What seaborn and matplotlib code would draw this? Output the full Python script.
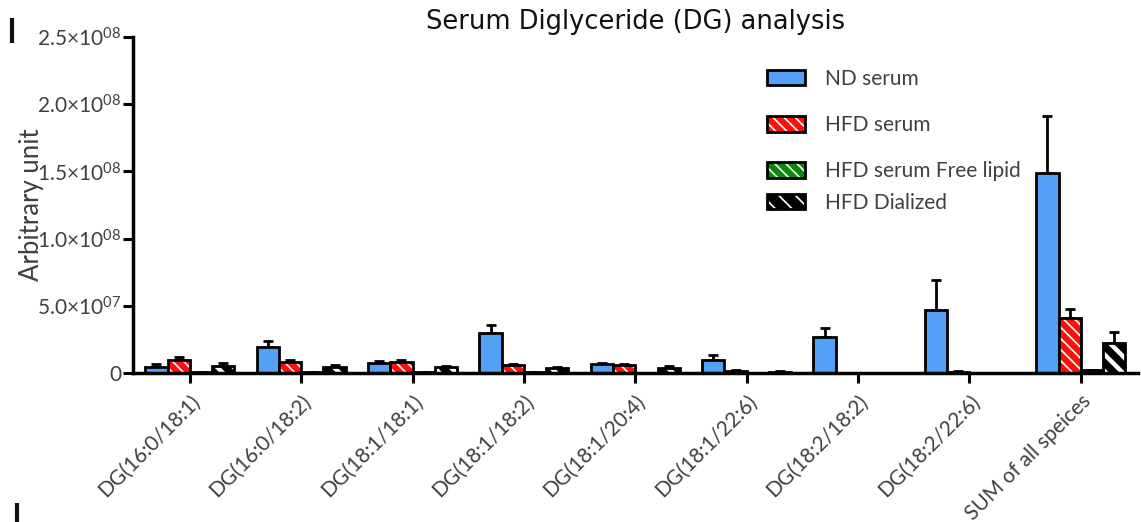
import numpy as np
import pandas as pd
import matplotlib
matplotlib.use("Agg")
import matplotlib.pyplot as plt
import seaborn as sns
from matplotlib.patches import Patch, Rectangle
from matplotlib.lines import Line2D
from matplotlib.legend_handler import HandlerTuple

# ---- data -------------------------------------------------------------
species = ["DG(16:0/18:1)", "DG(16:0/18:2)", "DG(18:1/18:1)", "DG(18:1/18:2)",
           "DG(18:1/20:4)", "DG(18:1/22:6)", "DG(18:2/18:2)", "DG(18:2/22:6)",
           "SUM of all speices"]
groups = ["ND serum", "HFD serum", "HFD serum Free lipid", "HFD Dialized"]

nd_mean = [4.7e6, 1.95e7, 7.5e6, 2.95e7, 6.5e6, 9.7e6, 2.7e7, 4.7e7, 1.49e8]
nd_err = [2.0e6, 4.5e6, 1.5e6, 6.0e6, 1.0e6, 4.0e6, 6.5e6, 2.2e7, 4.2e7]
hfd_mean = [9.5e6, 8.0e6, 8.5e6, 6.0e6, 6.0e6, 1.8e6, 3.0e5, 1.0e6, 4.13e7]
hfd_err = [2.5e6, 2.0e6, 1.0e6, 1.0e6, 0.5e6, 0.3e6, 0.0, 0.3e6, 6.5e6]
free_mean = [5e5, 4e5, 1.0e6, 4e5, 2e5, 2e5, 1e5, 1e5, 2.5e6]
free_err = [0, 0, 0, 0, 0, 0, 0, 0, 0]
dial_mean = [5.5e6, 4.5e6, 4.5e6, 3.5e6, 3.5e6, 1.0e6, 2e5, 3e5, 2.25e7]
dial_err = [1.7e6, 1.5e6, 1.0e6, 1.0e6, 1.5e6, 0.3e6, 0, 0, 7.8e6]

ytick_vals = [0, 5e7, 1e8, 1.5e8, 2e8, 2.5e8]
ytick_labels = ["0",
                r"5.0×10$^{\mathregular{07}}$",
                r"1.0×10$^{\mathregular{08}}$",
                r"1.5×10$^{\mathregular{08}}$",
                r"2.0×10$^{\mathregular{08}}$",
                r"2.5×10$^{\mathregular{08}}$"]

means = [nd_mean, hfd_mean, free_mean, dial_mean]
errs = [nd_err, hfd_err, free_err, dial_err]
colors = ["#55A0F7", "#FF0D0D", "#0A8A0A", "#000000"]
hatches = [None, "\\\\\\", "\\\\\\", "\\\\"]
hatch_lw = [0, 1.2, 1.2, 3.2]

df = pd.DataFrame({
    "species": species * len(groups),
    "group": np.repeat(groups, len(species)),
    "value": np.concatenate(means),
})

# ---- style -------------------------------------------------------------
sns.set_theme(style="ticks")
plt.rcParams["font.family"] = ["Lato", "DejaVu Sans"]
plt.rcParams["mathtext.fontset"] = "custom"
plt.rcParams["mathtext.rm"] = "Lato"
plt.rcParams["mathtext.it"] = "Lato:italic"
plt.rcParams["mathtext.bf"] = "Lato:bold"
plt.rcParams["hatch.linewidth"] = 1.2
text_gray = "#404040"
fs = 15

fig = plt.figure(figsize=(11.41, 5.22), dpi=100)
ax = fig.add_axes([0.1166, 0.2854, 0.8804, 0.6437])

sns.barplot(data=df, x="species", y="value", hue="group",
            order=species, hue_order=groups, palette=colors,
            saturation=1, edgecolor="black", linewidth=2,
            errorbar=None, legend=False, ax=ax, zorder=2)

# hatched fills with white stripes, then a black outline on top
bar_containers = list(ax.containers)[:len(groups)]
for gi, cont in enumerate(bar_containers):
    xs, tops = [], []
    for bar in cont.patches:
        x0, y0 = bar.get_x(), bar.get_y()
        w, h = bar.get_width(), bar.get_height()
        xs.append(x0 + w / 2)
        tops.append(y0 + h)
        if hatches[gi]:
            bar.set_hatch(hatches[gi])
            bar.set_edgecolor("white")
            bar.set_linewidth(0)
            if hasattr(bar, "set_hatch_linewidth"):
                bar.set_hatch_linewidth(hatch_lw[gi])
            ax.add_patch(Rectangle((x0, y0), w, h, fill=False,
                                   edgecolor="black", linewidth=2, zorder=3))
    ax.errorbar(xs, tops, yerr=[np.zeros(len(xs)), errs[gi]], fmt="none",
                ecolor="black", elinewidth=2, capsize=3.5, capthick=2,
                zorder=1.5)

# ---- axes ---------------------------------------------------------------
ax.set_xlim(-0.51, len(species) - 0.49)
ax.set_ylim(0, 2.5e8)
ax.set_yticks(ytick_vals)
ax.set_yticklabels(ytick_labels)
ax.set_xticks(range(len(species)))
ax.set_xticklabels(species, rotation=45, ha="right", rotation_mode="anchor")
ax.tick_params(axis="both", colors="black", width=2.2, length=7,
               labelsize=fs, labelcolor=text_gray)
ax.tick_params(axis="y", pad=1.5)
ax.tick_params(axis="x", pad=6)
for side in ("top", "right"):
    ax.spines[side].set_visible(False)
for side in ("left", "bottom"):
    ax.spines[side].set_linewidth(2.5)
    ax.spines[side].set_color("black")
ax.set_xlabel("")
ax.set_ylabel("Arbitrary unit", fontsize=18.5, color=text_gray, labelpad=-5)
ax.set_title("Serum Diglyceride (DG) analysis", fontsize=18.5,
             family="DejaVu Sans", color="#111111", pad=6)

# ---- legend -------------------------------------------------------------
def make_handle(gi):
    if hatches[gi] is None:
        return Patch(facecolor=colors[gi], edgecolor="black", linewidth=2)
    fill = Patch(facecolor=colors[gi], edgecolor="white", hatch=hatches[gi],
                 linewidth=0)
    if hasattr(fill, "set_hatch_linewidth"):
        fill.set_hatch_linewidth(hatch_lw[gi])
    outline = Patch(fill=False, edgecolor="black", linewidth=2)
    return (fill, outline)

leg_kw = dict(frameon=False, fontsize=fs, labelcolor=text_gray,
              handlelength=1.83, handleheight=0.77, handletextpad=0.96,
              borderpad=0, borderaxespad=0, loc="upper left",
              handler_map={tuple: HandlerTuple(ndivide=1)})
leg1 = ax.legend([make_handle(i) for i in range(3)], groups[:3],
                 bbox_to_anchor=(0.631, 0.905), labelspacing=1.26, **leg_kw)
ax.add_artist(leg1)
ax.legend([make_handle(3)], groups[3:], bbox_to_anchor=(0.631, 0.536),
          **leg_kw)

# short rules in the left margin, top and bottom
fig.add_artist(Line2D([0.0105, 0.0105], [0.9655, 0.9176],
                      transform=fig.transFigure, lw=3, color="#111111",
                      solid_capstyle="butt"))
fig.add_artist(Line2D([0.0149, 0.0149], [0.0364, 0.0],
                      transform=fig.transFigure, lw=3, color="#111111",
                      solid_capstyle="butt"))

fig.savefig("out.png", dpi=100)
